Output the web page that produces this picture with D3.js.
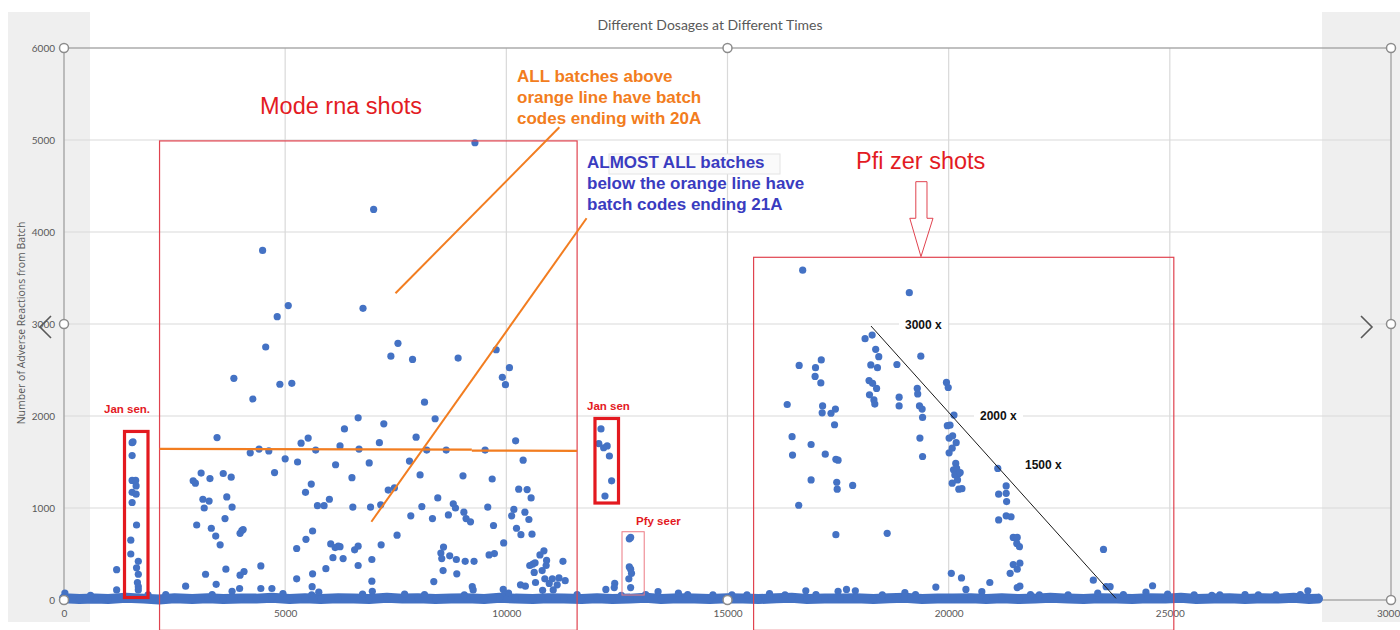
<!DOCTYPE html>
<html lang="en">
<head>
<meta charset="UTF-8">
<title>Different Dosages at Different Times</title>
<script src="https://d3js.org/d3.v7.min.js"></script>
<style>
  body { margin: 0; background: #fff; overflow: hidden; }
</style>
</head>
<body>
<script>
// ticks
const xTicks = [0, 5000, 10000, 15000, 20000, 25000, 30000];
const yTicks = [0, 1000, 2000, 3000, 4000, 5000, 6000];

// [batch index, adverse reactions]
const janssenPts = [
  [1540,1710],[1560,1720],[1540,1570],[1540,1300],[1620,1300],[1630,1240],[1540,1170],[1630,1150],
  [1540,1060],[1640,815],[1510,650],[1510,500],[1680,420],[1640,350],[1680,280],[1660,190],
  [1680,145],[1680,110],[1190,330],[1190,110],
  [12140,1860],[12090,1700],[12200,1655],[12280,1675],[12330,1565],[12380,1295],[12230,1130]
];

const pfyseerPts = [
  [12780,665],[12810,680],[12780,360],[12810,335],[12830,290],[12770,230],[12810,135],
  [12250,115],[12450,180],[12440,135],[13430,90],[13890,75]
];

const modernaPts = [
  [4490,3800],[5070,3200],[4820,3080],[4560,2750],[9290,4970],[7000,4245],[6760,3170],[7550,2790],
  [7390,2650],[7880,2615],[8910,2630],[9770,2720],[3840,2410],[4880,2345],[5150,2355],[4270,2185],
  [3460,1765],[4210,1600],[4410,1640],[4630,1620],[5000,1535],[5280,1500],[5360,1705],[5520,1760],
  [5690,1630],[6140,1470],[6240,1675],[2920,1295],[2970,1270],[3100,1380],[3300,1320],[3600,1375],
  [3780,1335],[4760,1385],[3140,1095],[3280,1075],[3170,1000],[3680,1120],[3800,1010],[5460,1170],
  [5590,1260],[5730,1025],[5880,1025],[6000,1095],[3000,815],[3330,780],[3430,695],[3530,600],
  [3640,885],[3980,725],[4020,755],[4050,765],[5260,560],[5470,660],[5620,750],[6030,610],
  [6130,570],[6200,585],[6080,460],[3200,280],[3660,335],[3980,270],[4070,310],[4450,370],
  [5260,230],[5620,285],[5920,340],[2750,150],[3440,170],[3970,125],[4450,125],[4700,125],
  [5610,145],[5760,85],[3800,95],
  [9910,2420],[9980,2340],[10070,2525],[8150,2150],[8390,1970],[7960,1770],[7230,1915],[6650,1980],
  [6340,1860],[6670,1640],[7130,1710],[10210,1730],[9520,1630],[8640,1630],[8200,1630],
  [10380,1520],[6900,1490],[7810,1510],[6510,1330],[8050,1360],[9020,1350],[9680,1315],[7330,1195],
  [7470,1220],[10280,1205],[10470,1200],[10560,1110],[6530,1010],[6930,1010],[7160,1035],[8090,1015],
  [8450,1110],[8800,1045],[8850,1000],[9040,955],[9090,885],[9190,850],[9580,1010],[10170,985],
  [10120,915],[10420,955],[10510,875],[7840,915],[8330,885],[8690,925],[9710,810],[10230,780],
  [10330,710],[10580,715],[7530,705],[7170,600],[6240,580],[6570,545],[6650,585],[6310,450],
  [6650,375],[6960,440],[8580,575],[8520,510],[8540,450],[8720,480],[8870,440],[9070,420],
  [9270,420],[9610,490],[9730,505],[9940,620],[8570,320],[8880,285],[6960,205],[8360,200],
  [9230,145],[9250,110],[9930,115],[10760,490],[10850,535],[10600,390],[10530,375],[10650,405],
  [10910,430],[10900,375],[10630,300],[10810,320],[11280,420],[10660,190],[10320,165],[10430,150],
  [10870,230],[11040,230],[11190,240],[11330,210],[10820,105],[10970,180],[11060,110],[11150,165],
  [6970,95]
];

const pfizerPts = [
  [16700,3585],[19110,3340],[18110,2840],[18270,2880],[18350,2725],[18420,2645],[18240,2555],[18390,2525],
  [18830,2560],[19370,2650],[16620,2550],[17120,2610],[16990,2525],[16980,2430],[17110,2360],[18200,2385],
  [18280,2355],[18370,2300],[18210,2230],[18310,2175],[18330,2130],[18880,2205],[18880,2110],[19290,2300],
  [19300,2240],[19340,2110],[19400,2075],[19410,1985],[19950,2365],[19990,2310],[20120,2010],[19970,1895],
  [20030,1900],[20010,1760],[20090,1785],[20170,1710],[20080,1650],[20010,1600],[20160,1485],[20110,1415],
  [20180,1430],[20220,1370],[20140,1360],[20260,1385],[20200,1305],[20080,1270],[20230,1205],[20300,1210],
  [16350,2125],[17150,2110],[17140,2035],[17340,2030],[17440,2075],[17420,1905],[16460,1775],[16470,1575],
  [16890,1690],[17210,1585],[17450,1530],[17500,1520],[19350,1760],[19410,1560],[16890,1305],[17470,1280],
  [17480,1205],[17830,1245],[16610,1030],[17450,710],[18610,725],[20060,290],[20290,240],[19710,140],
  [20390,115],[20930,190],[21110,1430],[21130,1150],[21130,870],[21300,1240],[21300,1160],[21310,1070],
  [21300,915],[21410,905],[21460,680],[21550,680],[21540,615],[21600,580],[21460,385],[21550,335],
  [21610,400],[21390,290],[21610,150],[21550,135],[23500,550],[23270,215],[23560,145],[23650,145],
  [23370,75],[24610,155],[24460,85],[17500,95],[17690,115],[17890,100]
];

// small counts just above the floor
const lowPts = [
  [20,75],[16770,100],[19010,80],[20750,90],[28120,100],[15440,55],[16300,55],[14670,55],[26130,55],
  [2300,60],[4950,70],[7700,65],[8150,60],[10050,75],[11600,60],[14100,60],[15950,70],[19250,60],
  [22050,55],[24950,65],[25950,50],[26700,60],[27400,55],[27950,60],[600,50],[1900,55],[3350,60],
  [5600,55],[6750,65],[9050,55],[12600,50],[13150,60],[15100,55],[17000,60],[18500,55],[21850,60],
  [22700,55],[23950,60],[25550,55],[27000,55]
];

// the dense floor of batches with few reports
const baseline = [
  [0,20],[350,10],[700,15],[1000,10],[1400,25],[1800,15],[2150,5],[2500,20],[2900,10],[3250,20],
  [3600,10],[4000,15],[4350,15],[4700,25],[5100,10],[5450,20],[5800,10],[6200,20],[6550,15],[6900,10],
  [7300,25],[7650,15],[8000,20],[8400,10],[8750,15],[9100,20],[9500,10],[9850,25],[10200,15],[10600,10],
  [10950,20],[11300,15],[11700,10],[12050,20],[12400,10],[12800,15],[13150,25],[13500,10],[13900,20],[14250,15],
  [14600,10],[15000,20],[15350,15],[15700,10],[16100,20],[16450,25],[16800,10],[17200,15],[17550,15],[17900,20],
  [18300,10],[18650,20],[19000,25],[19400,10],[19750,15],[20100,15],[20500,20],[20850,10],[21200,20],[21600,10],
  [21950,15],[22300,25],[22700,15],[23050,10],[23400,20],[23800,15],[24150,10],[24500,20],[24900,15],[25250,25],
  [25600,10],[26000,15],[26350,20],[26700,10],[27100,20],[27450,15],[27800,25],[28150,10],[28350,15]
];

const width = 1400, height = 630;
const svg = d3.select("body").append("svg")
    .attr("width", width)
    .attr("height", height);

const x = d3.scaleLinear().domain([0, 30000]).range([64, 1391]);
const y = d3.scaleLinear().domain([0, 6000]).range([600, 48]);

// grey panels either side of the chart (slide viewer)
svg.append("rect").attr("x", 8).attr("y", 12).attr("width", 82).attr("height", 610).attr("fill", "#efefef");
svg.append("rect").attr("x", 1322).attr("y", 12).attr("width", 78).attr("height", 610).attr("fill", "#efefef");

// gridlines
svg.append("g").selectAll("line")
    .data(yTicks.slice(1, -1))
    .join("line")
    .attr("x1", x(0)).attr("x2", x(30000))
    .attr("y1", d => y(d)).attr("y2", d => y(d))
    .attr("stroke", "#d9d9d9").attr("stroke-width", 1.2);

svg.append("g").selectAll("line")
    .data(xTicks.slice(1, -1))
    .join("line")
    .attr("x1", d => x(d)).attr("x2", d => x(d))
    .attr("y1", y(0)).attr("y2", y(6000))
    .attr("stroke", "#d9d9d9").attr("stroke-width", 1.2);

// selection frame
svg.append("rect")
    .attr("x", x(0)).attr("y", y(6000))
    .attr("width", x(30000) - x(0)).attr("height", y(0) - y(6000))
    .attr("fill", "none").attr("stroke", "#a6a6a6").attr("stroke-width", 1.4);

// axes
const yAxis = svg.append("g")
    .attr("transform", `translate(${x(0)},0)`)
    .call(d3.axisLeft(y).tickValues(yTicks).tickSize(0).tickPadding(9).tickFormat(d3.format("d")));
yAxis.select(".domain").remove();
yAxis.selectAll("text").attr("fill", "#595959").style("font", "10px Lato");

const xAxis = svg.append("g")
    .attr("transform", `translate(0,${y(0)})`)
    .call(d3.axisBottom(x).tickValues(xTicks).tickSize(0).tickPadding(10).tickFormat(d3.format("d")));
xAxis.select(".domain").remove();
xAxis.selectAll("text").attr("fill", "#595959").style("font", "10px Lato");

svg.append("text")
    .attr("transform", "translate(25,323) rotate(-90)")
    .attr("text-anchor", "middle")
    .attr("fill", "#595959")
    .style("font", "10.5px 'Open Sans'")
    .text("Number of Adverse Reactions from Batch");

svg.append("text")
    .attr("x", 710).attr("y", 30)
    .attr("text-anchor", "middle")
    .attr("fill", "#595959")
    .style("font", "14px Lato")
    .text("Different Dosages at Different Times");

// faint tooltip box left over from the screenshot
svg.append("rect").attr("x", 609).attr("y", 154).attr("width", 171).attr("height", 20)
    .attr("fill", "#fafafa").attr("stroke", "#e4e4e4");

// floor band
const blue = "#4472c4";
svg.append("path")
    .datum(baseline)
    .attr("d", d3.line().x(d => x(d[0])).y(d => y(d[1])))
    .attr("fill", "none")
    .attr("stroke", blue)
    .attr("stroke-width", 10)
    .attr("stroke-linejoin", "round")
    .attr("stroke-linecap", "round");

const allPts = baseline.concat(lowPts, janssenPts, pfyseerPts, modernaPts, pfizerPts);
svg.append("g").selectAll("circle")
    .data(allPts)
    .join("circle")
    .attr("cx", d => x(d[0]))
    .attr("cy", d => y(d[1]))
    .attr("r", 3.6)
    .attr("fill", blue);

// annotations (in data units)
const ann = svg.append("g").attr("fill", "none");
function box(x0, x1, y0, y1, color, w) {
    ann.append("rect")
        .attr("x", x(x0)).attr("y", y(y1))
        .attr("width", x(x1) - x(x0)).attr("height", y(y0) - y(y1))
        .attr("stroke", color).attr("stroke-width", w);
}
function seg(pts, color, w) {
    ann.append("path")
        .attr("d", d3.line().x(d => x(d[0])).y(d => y(d[1]))(pts))
        .attr("stroke", color).attr("stroke-width", w);
}

box(2160, 11600, -330, 4990, "#e0434f", 1.2);     // Moderna
box(15590, 25090, -330, 3725, "#e0434f", 1.2);    // Pfizer
box(1368, 1899, 27, 1832, "#e3191f", 3.2);        // Janssen left
box(12004, 12536, 1054, 1973, "#e3191f", 3.2);    // Janssen right
box(12615, 13117, 54, 742, "#ec7a84", 1);         // Pfy seer

const orange = "#f27d20";
seg([[2160, 1642], [9220, 1635]], orange, 2.2);
seg([[9220, 1624], [11600, 1622]], orange, 2.2);
seg([[7494, 3334], [11199, 5138]], orange, 2);
seg([[6949, 851], [11814, 4149]], orange, 2);
seg([[18244, 2978], [23782, 18]], "#1a1a1a", 1);

// down arrow above Pfizer
seg([[19257, 4547], [19510, 4547], [19510, 4149], [19646, 4149], [19374, 3732],
     [19121, 4149], [19257, 4149], [19257, 4547]], "#e0434f", 1);

// texts
function label(tx, ty, str, size, color, weight) {
    return svg.append("text")
        .attr("x", tx).attr("y", ty)
        .style("font-family", "'Liberation Sans', Arial, sans-serif")
        .style("font-size", size + "px")
        .style("font-weight", weight || "normal")
        .attr("fill", color)
        .text(str);
}

label(260, 114, "Mode rna shots", 23.5, "#e31b23");
label(856, 169, "Pfi zer shots", 23.5, "#e31b23");

[["ALL batches above", 82], ["orange line have batch", 103], ["codes ending with 20A", 124]]
    .forEach(d => label(517, d[1], d[0], 17, orange, "bold"));
[["ALMOST ALL batches", 168], ["below the orange line have", 189], ["batch codes ending 21A", 210]]
    .forEach(d => label(587, d[1], d[0], 17, "#3a3cc0", "bold"));

label(104, 413, "Jan sen.", 11.5, "#e3191f", "bold");
label(587, 410, "Jan sen", 11.5, "#e3191f", "bold");
label(636, 525, "Pfy seer", 11.5, "#e3191f", "bold");

[[905, 329, "3000 x"], [980, 420, "2000 x"], [1025, 469, "1500 x"]].forEach(d => {
    const t = label(d[0], d[1], d[2], 12, "#111", "bold");
    const b = t.node().getBBox();
    svg.insert("rect", () => t.node())
        .attr("x", b.x - 6).attr("y", b.y)
        .attr("width", b.width + 12).attr("height", b.height)
        .attr("fill", "#fff");
});

// viewer arrows
svg.append("path").attr("d", "M51,316L40,327L51,338").attr("fill", "none")
    .attr("stroke", "#595959").attr("stroke-width", 1.6);
svg.append("path").attr("d", "M1361,316L1372,327L1361,338").attr("fill", "none")
    .attr("stroke", "#595959").attr("stroke-width", 1.6);

// selection handles
const handles = [[0, 6000], [15000, 6000], [30000, 6000], [0, 3000], [30000, 3000], [0, 0], [15000, 0], [30000, 0]];
svg.append("g").selectAll("circle")
    .data(handles)
    .join("circle")
    .attr("cx", d => x(d[0]))
    .attr("cy", d => y(d[1]))
    .attr("r", 4.5)
    .attr("fill", "#fff")
    .attr("stroke", "#8c8c8c")
    .attr("stroke-width", 1.5);
</script>
</body>
</html>
